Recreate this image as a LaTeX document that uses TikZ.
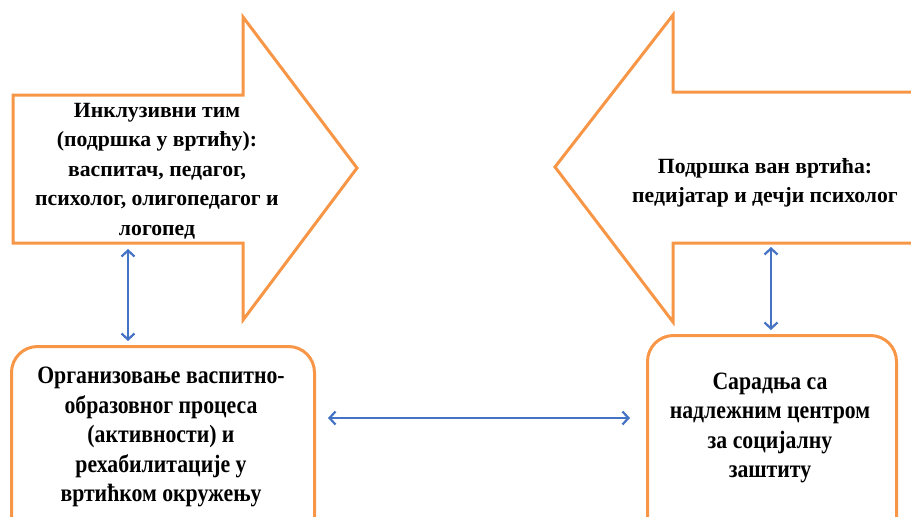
\documentclass[tikz,border=0pt]{standalone}
\usepackage{fontspec}
\setmainfont{Liberation Serif}
\usetikzlibrary{arrows.meta}
\definecolor{orng}{HTML}{F79646}
\definecolor{blu}{HTML}{4472C4}
\begin{document}
\begin{tikzpicture}[x=1pt,y=-1pt,
  shapeline/.style={draw=orng,line width=3pt,line join=miter},
  boxnode/.style={draw=orng,line width=3pt,rounded corners=26pt,fill=white},
  txt/.style={align=center,font=\bfseries\fontsize{21.7}{29.5}\selectfont},
  narrowtxt/.style={align=center,font=\bfseries\addfontfeature{FakeStretch=0.87}\fontsize{25}{29.5}\selectfont},
  link/.style={draw=blu,line width=1.2pt,{Straight Barb[length=6pt,width=13pt,line width=2.2pt]}-{Straight Barb[length=6pt,width=13pt,line width=2.2pt]}}]
\useasboundingbox (0,0) rectangle (911,517);
% left big arrow (pointing right)
\draw[shapeline] (13,95) -- (243,95) -- (243,17) -- (357,168) -- (243,320) -- (243,243) -- (13,243) -- cycle;
\coordinate (la) at (128,243);
\node[txt] (lt) at (157,171) {Инклузивни тим\\(подршка у вртићу):\\васпитач, педагог,\\психолог, олигопедагог и\\логопед};
% right big arrow (pointing left)
\draw[shapeline] (930,92) -- (673,92) -- (673,15) -- (555,167) -- (673,322) -- (673,243) -- (930,243);
\coordinate (ra) at (771,243);
\node[txt] (rt) at (765,183) {Подршка ван вртића:\\педијатар и дечји психолог};
% bottom boxes
\node[boxnode,minimum width=303pt,minimum height=200pt,anchor=north west] (lb) at (10,345) {};
\node[narrowtxt] (lbt) at (161,437) {Организовање васпитно-\\образовног процеса\\(активности) и\\рехабилитације у\\вртићком окружењу};
\node[boxnode,minimum width=249pt,minimum height=210pt,anchor=north west] (rb) at (646,334) {};
\node[narrowtxt] (rbt) at (770,428) {Сарадња са\\надлежним центром\\за социјалну\\заштиту};
% connectors
\draw[link,shorten <=6pt,shorten >=4pt] (la) -- (la |- lb.north);
\draw[link,shorten <=4pt,shorten >=4pt] (ra) -- (ra |- rb.north);
\draw[link] (328,418) coordinate (h1) -- (630,418) coordinate (h2);
\end{tikzpicture}
\end{document}
